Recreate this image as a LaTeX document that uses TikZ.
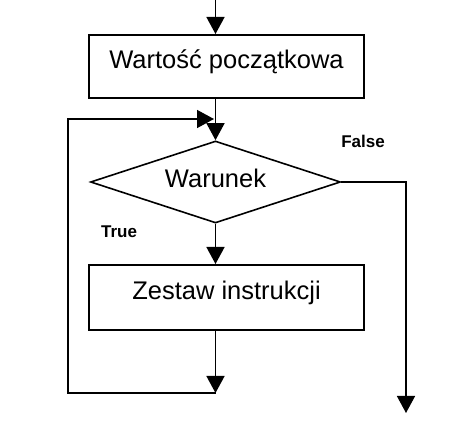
\documentclass[tikz,border=0pt]{standalone}
\usepackage{fontspec}
\setmainfont{Liberation Sans}
\usetikzlibrary{shapes.geometric,arrows.meta}
\begin{document}
\begin{tikzpicture}[x=1pt,y=1pt,
  boxstyle/.style={draw,line width=2pt,minimum width=275pt,minimum height=63pt,inner sep=0pt,
    font=\fontsize{25.5}{30}\selectfont,text height=12pt,text depth=7pt},
  diastyle/.style={draw,diamond,line width=1.6pt,minimum width=250pt,minimum height=82pt,aspect=3,
    inner sep=0pt,font=\fontsize{25.5}{30}\selectfont,text height=14pt,text depth=2pt},
  labstyle/.style={font=\fontsize{17}{20}\selectfont\bfseries,inner sep=0pt},
  arr/.style={line width=1.5pt,-{Triangle[length=17pt,width=18pt]}},
  ln/.style={line width=1.5pt}]
\useasboundingbox (0,0) rectangle (469,-438);
\node[boxstyle] (box1) at (226.5,-66.5) {Wartość początkowa};
\node[diastyle] (dia) at (215.5,-182) {Warunek};
\node[boxstyle,minimum height=65pt] (box2) at (226.5,-297.5) {Zestaw instrukcji};
\node[labstyle] (false) at (363,-141) {False};
\node[labstyle] (true) at (119,-232) {True};
\coordinate (start) at (215.5,0);
\coordinate (loopb) at (215.5,-393);
\coordinate (loopl) at (68,-393);
\coordinate (loopt) at (68,-119);
\coordinate (merge) at (214,-119);
\coordinate (fc) at (406,-182);
\coordinate (fend) at (406,-413);
\draw[arr] (start) -- (box1.north -| start);
\draw[arr] (box1.south -| dia.north) -- (dia.north);
\draw[arr] (dia.south) -- (dia.south |- box2.north);
\draw[arr] (box2.south -| loopb) -- (loopb);
\draw[arr] (loopb) -- (loopl) -- (loopt) -- (merge);
\draw[arr] (dia.east) -- (fc) -- (fend);
\end{tikzpicture}
\end{document}
